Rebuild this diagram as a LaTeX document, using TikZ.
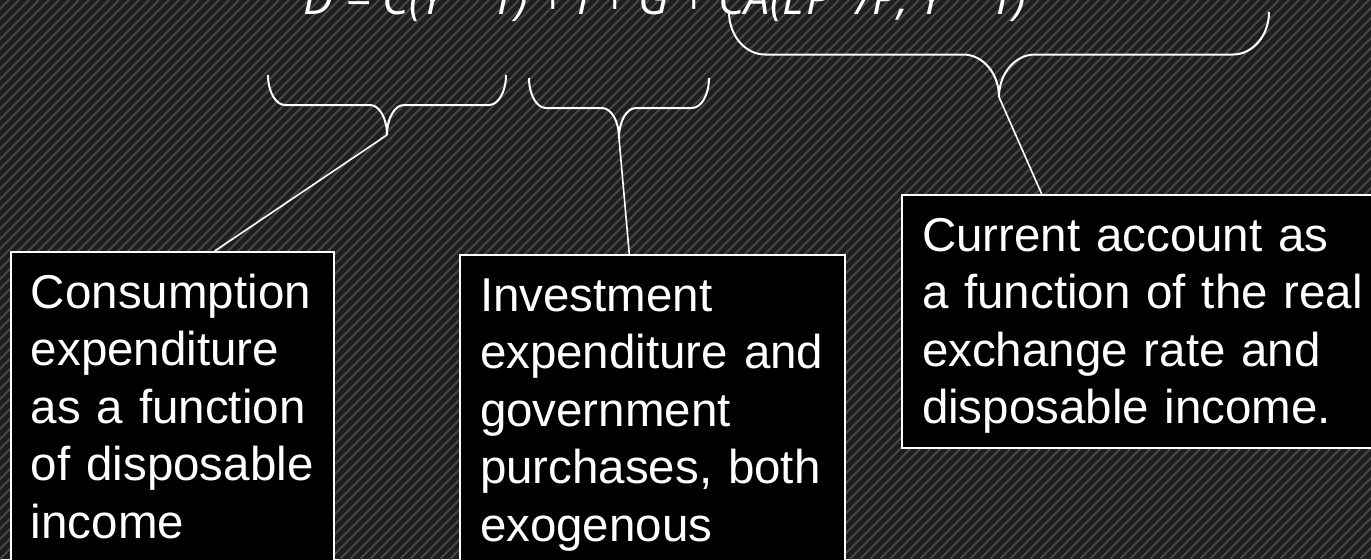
\documentclass[tikz,border=0pt]{standalone}
\usepackage{fontspec}
\setmainfont{Liberation Sans}
\newfontfamily\eqfont{Open Sans}
\usetikzlibrary{calc}

\definecolor{bgdark}{RGB}{30,30,30}
\definecolor{bgstripe}{RGB}{72,72,72}

\newcommand{\tophang}{\rule{0pt}{28pt}}
\newcommand{\bothang}[1]{\rule[-#1]{0pt}{#1}}
% name, left x, right x, top y, depth, arc width
\newcommand{\roundbrace}[6]{%
  \draw[bracket] (#2,#4)
    arc[start angle=180, end angle=270, x radius={#6*0.5pt}, y radius={#5*0.25pt}]
    -- ({(#2+#3)/2-#6},{#4-#5/2})
    arc[start angle=90, end angle=0, x radius={#6*0.5pt}, y radius={#5*0.25pt}] coordinate (#1)
    arc[start angle=180, end angle=90, x radius={#6*0.5pt}, y radius={#5*0.25pt}]
    -- ({#3-#6},{#4-#5/2})
    arc[start angle=270, end angle=360, x radius={#6*0.5pt}, y radius={#5*0.25pt}];}

\begin{document}
\begin{tikzpicture}[x=0.5pt, y=0.5pt,
    infobox/.style={draw=white, line width=1pt, fill=black, text=white, anchor=north west,
      align=left, inner xsep=10pt, inner ysep=0pt, font=\fontsize{23.75pt}{28.75pt}\selectfont},
    link/.style={draw=white, line width=0.8pt},
    bracket/.style={draw=white, line width=1pt},
    stripe/.style={draw=bgstripe, line width=1pt}]
    \useasboundingbox (0,0) rectangle (1371,559);
    \clip (0,0) rectangle (1371,559);
    \fill[bgdark] (0,0) rectangle (1371,559);
    \foreach \s in {-560,-550,...,1370}
        \draw[stripe] (\s,0) -- ++(559,559);

    % equation, cut by the top edge
    \node[anchor=base west, inner sep=0pt, text=white,
      font=\eqfont\itshape\fontsize{22.5pt}{27pt}\selectfont] (eq) at (303,545)
      {D = C(Y − T) + I + G + CA(EP*/P, Y − T)};

    % braces under the terms
    \roundbrace{ctip}{268}{506}{484}{60}{17}
    \roundbrace{itip}{529}{709}{481}{60}{17}
    \roundbrace{atip}{729}{1269}{547}{85}{36}

    % boxes
    \node[infobox, text width=141.5pt] (cons) at (10,308)
      {\tophang Consumption\\ expenditure\\ as a function\\ of disposable\\ income\bothang{20pt}};
    \node[infobox, text width=172.5pt] (invest) at (459,305)
      {\tophang Investment\\ expenditure and\\ government\\ purchases, both\\ exogenous\bothang{20pt}};
    \node[infobox, text width=225pt] (curacc) at (901,365)
      {\tophang Current account as\\ a function of the real\\ exchange rate and\\ disposable income.\bothang{12pt}};

    \draw[link] (ctip) -- ($(cons.north west)!0.63!(cons.north east)$);
    \draw[link] (itip) -- ($(invest.north west)!0.44!(invest.north east)$);
    \draw[link] (atip) -- ($(curacc.north west)!0.286!(curacc.north east)$);
\end{tikzpicture}
\end{document}
